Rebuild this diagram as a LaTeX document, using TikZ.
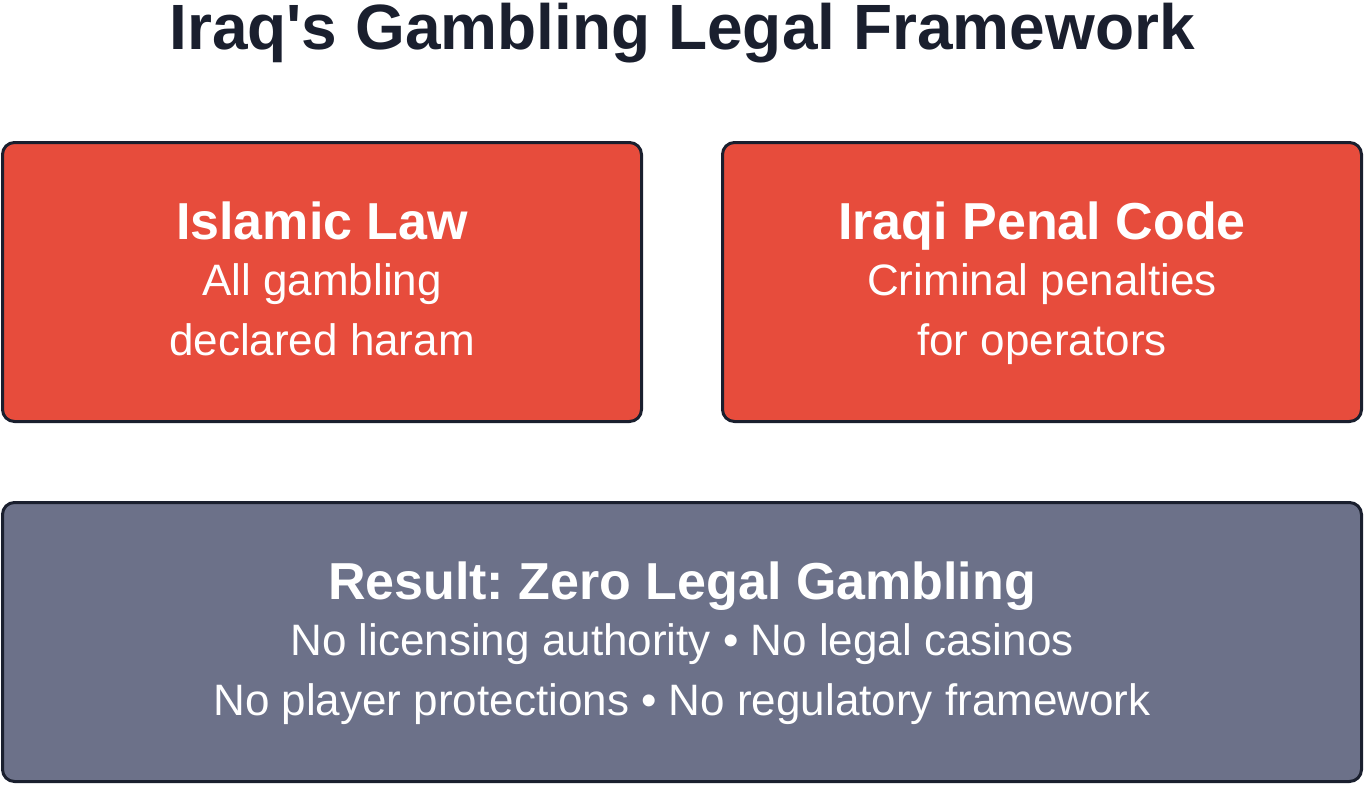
\documentclass[tikz,border=0pt]{standalone}
\usepackage{fontspec}
\setmainfont{Liberation Sans}
\definecolor{redbox}{HTML}{E74C3C}
\definecolor{greybox}{HTML}{6C7189}
\definecolor{ink}{HTML}{1A1F2E}
\frenchspacing
\begin{document}
\begin{tikzpicture}[x=1pt,y=-1pt,
  box/.style={draw=ink,line width=3pt,rounded corners=12pt},
  head/.style={anchor=base,text=white,font=\fontsize{52}{60}\selectfont\bfseries,inner sep=0pt},
  body/.style={anchor=base,text=white,font=\fontsize{44}{50}\selectfont,inner sep=0pt}]
\useasboundingbox (0,0) rectangle (1364,784);
\node[anchor=base,text=ink,font=\fontsize{64}{70}\selectfont\bfseries,inner sep=0pt] (title) at (682,50) {Iraq\textquotesingle s Gambling Legal Framework};
\draw[box,fill=redbox] (2.5,142.5) rectangle (641.5,421.5);
\coordinate (b1) at (322,280);
\draw[box,fill=redbox] (722.5,142.5) rectangle (1361.5,421.5);
\coordinate (b2) at (1042,280);
\draw[box,fill=greybox] (2.5,502.5) rectangle (1361.5,781.5);
\coordinate (b3) at (682,640);
\node[head] (h1) at (322,239) {Islamic Law};
\node[body] (l11) at (322,295) {All gambling};
\node[body] (l12) at (322,355) {declared haram};
\node[head] (h2) at (1042,239) {Iraqi Penal Code};
\node[body] (l21) at (1042,295) {Criminal penalties};
\node[body] (l22) at (1042,355) {for operators};
\node[head] (h3) at (682,599) {Result: Zero Legal Gambling};
\node[body] (l31) at (682,655) {No licensing authority • No legal casinos};
\node[body] (l32) at (682,715) {No player protections • No regulatory framework};
\end{tikzpicture}
\end{document}
